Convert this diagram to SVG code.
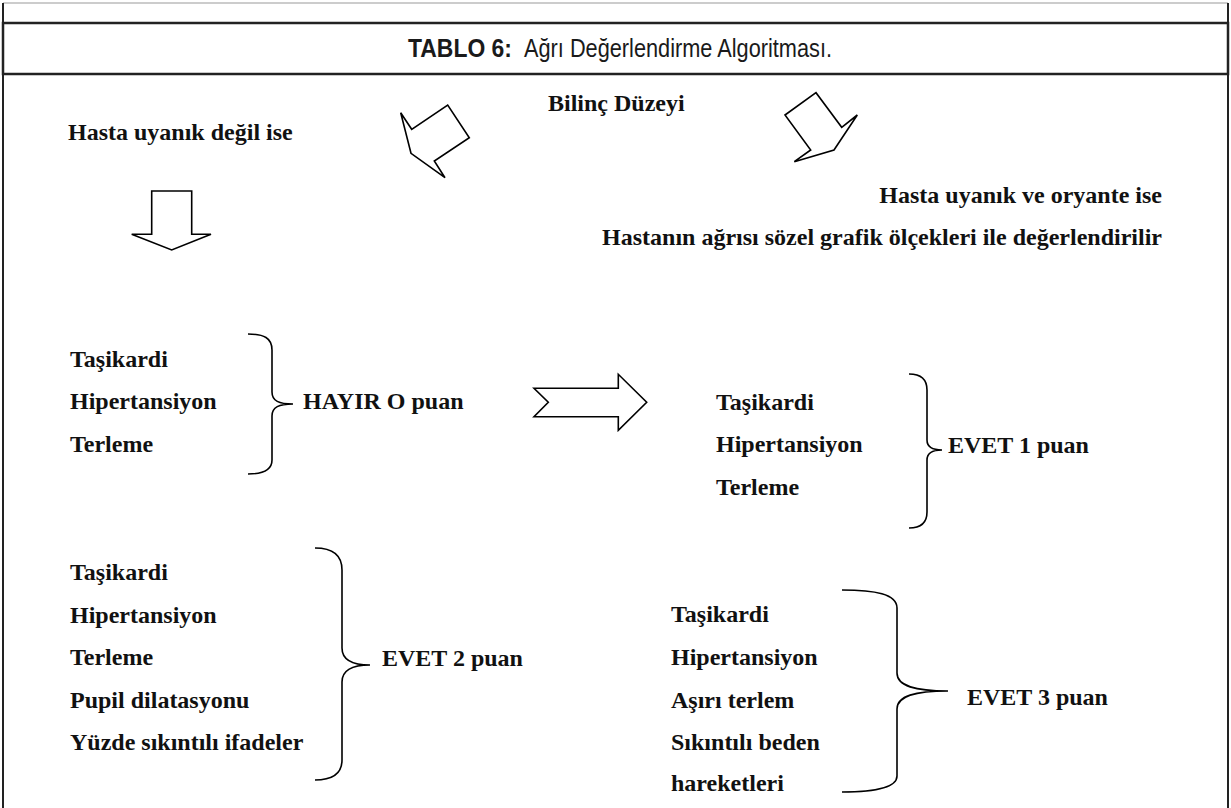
<svg xmlns="http://www.w3.org/2000/svg" width="1231" height="808" viewBox="0 0 1231 808">
<style>
.t{font-family:"Liberation Serif","Times New Roman",serif;font-weight:bold;font-size:24px;fill:#111}
.h{font-family:"Liberation Sans",Arial,sans-serif;font-size:25px;fill:#1a1a1a}
.ar{fill:#fff;stroke:#000;stroke-width:1.6;stroke-linejoin:miter}
.br{fill:none;stroke:#000;stroke-width:1.6}
</style>
<rect x="0" y="0" width="1231" height="808" fill="#fff"/>
<g id="frame">
<line x1="3" y1="3" x2="1228" y2="3" stroke="#999" stroke-width="1"/>
<line x1="3" y1="3" x2="3" y2="808" stroke="#222" stroke-width="2"/>
<line x1="1228" y1="3" x2="1228" y2="808" stroke="#222" stroke-width="2"/>
<rect x="3" y="23" width="1225" height="51" fill="#fff" stroke="#222" stroke-width="2.5"/>
</g>
<g id="title">
<text class="h" x="408" y="57" font-weight="bold" textLength="104" lengthAdjust="spacingAndGlyphs">TABLO 6:</text>
<text class="h" x="524" y="57" textLength="308" lengthAdjust="spacingAndGlyphs">Ağrı Değerlendirme Algoritması.</text>
</g>
<g id="bilinc"><text class="t" x="548" y="111">Bilinç Düzeyi</text></g>
<g id="uyanik-degil"><text class="t" x="68" y="140">Hasta uyanık değil ise</text></g>
<g id="uyanik-oryante">
<text class="t" x="1162" y="203" text-anchor="end">Hasta uyanık ve oryante ise</text>
<text class="t" x="1162" y="245" text-anchor="end">Hastanın ağrısı sözel grafik ölçekleri ile değerlendirilir</text>
</g>
<g id="grup1">
<text class="t" x="70" y="367">Taşikardi</text>
<text class="t" x="70" y="409">Hipertansiyon</text>
<text class="t" x="70" y="452">Terleme</text>
</g>
<g id="hayir0"><text class="t" x="303" y="409">HAYIR O puan</text></g>
<g id="grup2">
<text class="t" x="716" y="410">Taşikardi</text>
<text class="t" x="716" y="452">Hipertansiyon</text>
<text class="t" x="716" y="495">Terleme</text>
</g>
<g id="evet1"><text class="t" x="948" y="453">EVET 1 puan</text></g>
<g id="grup3">
<text class="t" x="70" y="580">Taşikardi</text>
<text class="t" x="70" y="623">Hipertansiyon</text>
<text class="t" x="70" y="665">Terleme</text>
<text class="t" x="70" y="708">Pupil dilatasyonu</text>
<text class="t" x="70" y="750">Yüzde sıkıntılı ifadeler</text>
</g>
<g id="evet2"><text class="t" x="382" y="666">EVET 2 puan</text></g>
<g id="grup4">
<text class="t" x="671" y="622">Taşikardi</text>
<text class="t" x="671" y="665">Hipertansiyon</text>
<text class="t" x="671" y="708">Aşırı terlem</text>
<text class="t" x="671" y="750">Sıkıntılı beden</text>
<text class="t" x="671" y="791">hareketleri</text>
</g>
<g id="evet3"><text class="t" x="967" y="705">EVET 3 puan</text></g>
<g id="connectors">
<polygon class="ar" points="400.7,112.7 411.7,129.3 447.7,105 469.3,137.7 434.3,161 445,177.7 411,153.3"/>
<polygon class="ar" points="785,115 816,92.7 841.7,127.3 857.3,115 834,150 794.3,161.7 810.7,150"/>
<polygon class="ar" points="151.7,191 191.7,191 191.7,234.3 211,234.3 171.7,250 131.7,234.3 151.7,234.3"/>
<polygon class="ar" points="534,388.3 618.3,388.3 618.3,374.3 646.7,402.3 618.3,430.3 618.3,416.7 534,416.7 548.3,402.3"/>
<path class="br" d="M248,334 C264,334 272,338 272,350 L272,392 C272,401 279,404 293,404 C279,404 272,407 272,416 L272,460 C272,470 264,474 248,474"/>
<path class="br" d="M909,374 C921,374 927,379 927,390 L927,440 C927,447 933,450 942,450 C933,450 927,453 927,460 L927,512 C927,523 921,528 909,528"/>
<path class="br" d="M315,548 C333,548 342,556 342,570 L342,648 C342,660 352,665 370,665 C352,665 342,670 342,682 L342,760 C342,774 333,780 315,780"/>
<path class="br" d="M842,590 C875,590 897,594 897,608 L897,673 C897,686 915,691 948,691 C915,691 897,696 897,709 L897,776 C897,788 875,792 842,792"/>
</g>
</svg>
